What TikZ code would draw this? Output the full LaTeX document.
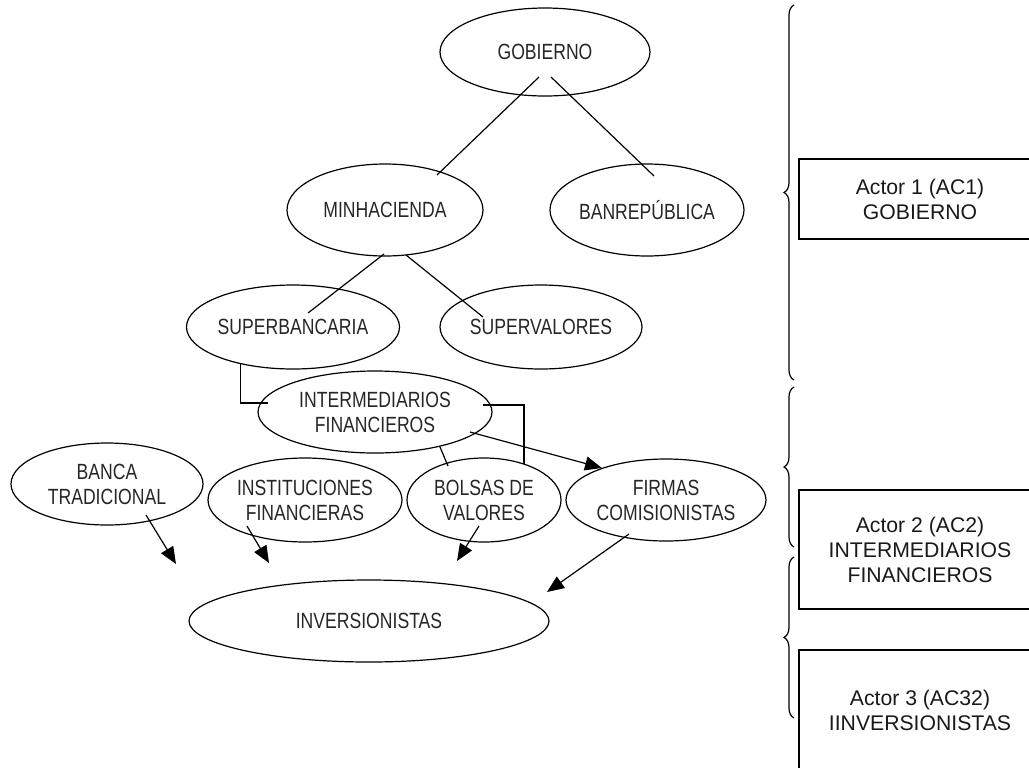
\documentclass[tikz,border=0pt]{standalone}
\usepackage{fontspec}
\setmainfont{Liberation Sans}
\newfontfamily\narrowfont[FakeStretch=0.8]{Liberation Sans}
\usetikzlibrary{shapes.geometric,arrows.meta,decorations.pathreplacing}
\tikzset{
ACTOR/.style 2 args={ellipse, draw=black, line width=0.6pt, inner sep=0pt, minimum width=#1pt, minimum height=#2pt, align=center, text=black!85, font=\narrowfont\fontsize{11}{12.5}\selectfont},
LINK/.style={draw=black, line width=0.6pt},
ARROW/.style={LINK, -{Triangle[length=8.5pt,width=7pt]}},
BRACE/.style={draw=black, line width=0.6pt, decorate, decoration={brace, amplitude=5pt}},
BOX/.style={draw=black, line width=0.6pt, minimum width=121pt, minimum height=#1pt, align=center, text=black!90, font=\fontsize{10.6}{12.5}\selectfont},
}

\begin{document}
\begin{tikzpicture}
[x=0.5pt, y=-0.5pt]
	\useasboundingbox (0,0) rectangle (1029,767);
	\clip (0,0) rectangle (1029,767);
	\node[ACTOR={105}{44}] (gob) at (545,52) {GOBIERNO};
	\node[ACTOR={98}{46}] (minh) at (385,210) {MINHACIENDA};
	\node[ACTOR={97}{46}] (banrep) at (647,210) {BANREPÚBLICA};
	\node[ACTOR={104}{42}] (superb) at (293,327) {SUPERBANCARIA};
	\node[ACTOR={101}{42}] (superv) at (541,327) {SUPERVALORES};
	\node[ACTOR={117}{41}] (interm) at (375,412) {INTERMEDIARIOS\\FINANCIEROS};
	\node[ACTOR={96}{41}] (banca) at (107,484) {BANCA\\TRADICIONAL};
	\node[ACTOR={97}{42}] (inst) at (305,500) {INSTITUCIONES\\FINANCIERAS};
	\node[ACTOR={77}{42}] (bolsas) at (484,500) {BOLSAS DE\\VALORES};
	\node[ACTOR={100}{41}] (firmas) at (666,500) {FIRMAS\\COMISIONISTAS};
	\node[ACTOR={180}{41}] (inv) at (369,621) {INVERSIONISTAS};
	\coordinate (invA) at (176,564);
	\coordinate (invB) at (269,563);
	\coordinate (invC) at (457,561);
	\coordinate (invD) at (547,592);
	\draw[LINK] ([shift={(-6,25)}]gob.center) -- ([shift={(52,-35)}]minh.center);
	\draw[LINK] ([shift={(6,25)}]gob.center) -- ([shift={(7,-34)}]banrep.center);
	\draw[LINK] ([shift={(-1,44)}]minh.center) -- ([shift={(15,-14)}]superb.center);
	\draw[LINK] ([shift={(21,45)}]minh.center) -- ([shift={(-58,-10)}]superv.center);
	\draw[LINK] (superb.215) |- ([shift={(-107,-9)}]interm.center);
	\draw[LINK] ([shift={(108,-7)}]interm.center) -| ([shift={(40,-36)}]bolsas.center);
	\draw[LINK] ([shift={(65,35)}]interm.center) -- ([shift={(-36,-34)}]bolsas.center);
	\draw[ARROW] ([shift={(95,20)}]interm.center) -- ([shift={(-64,-32)}]firmas.center);
	\draw[ARROW] ([shift={(39,31)}]banca.center) -- (invA);
	\draw[ARROW] ([shift={(-58,26)}]inst.center) -- (invB);
	\draw[ARROW] ([shift={(-5,26)}]bolsas.center) -- (invC);
	\draw[ARROW] ([shift={(-37,34)}]firmas.center) -- (invD);
	\foreach \a/\b in {5/380,387/547,557/718}
		\draw[BRACE] (794,\b) -- (794,\a);
	\node[BOX=40] (ac1) at (920,199) {Actor 1 (AC1)\\GOBIERNO};
	\node[BOX=59.5] (ac2) at (920,549.5) {Actor 2 (AC2)\\INTERMEDIARIOS\\FINANCIEROS};
	\node[BOX=60] (ac3) at (920,710) {Actor 3 (AC32)\\IINVERSIONISTAS};
\end{tikzpicture}
\end{document}
